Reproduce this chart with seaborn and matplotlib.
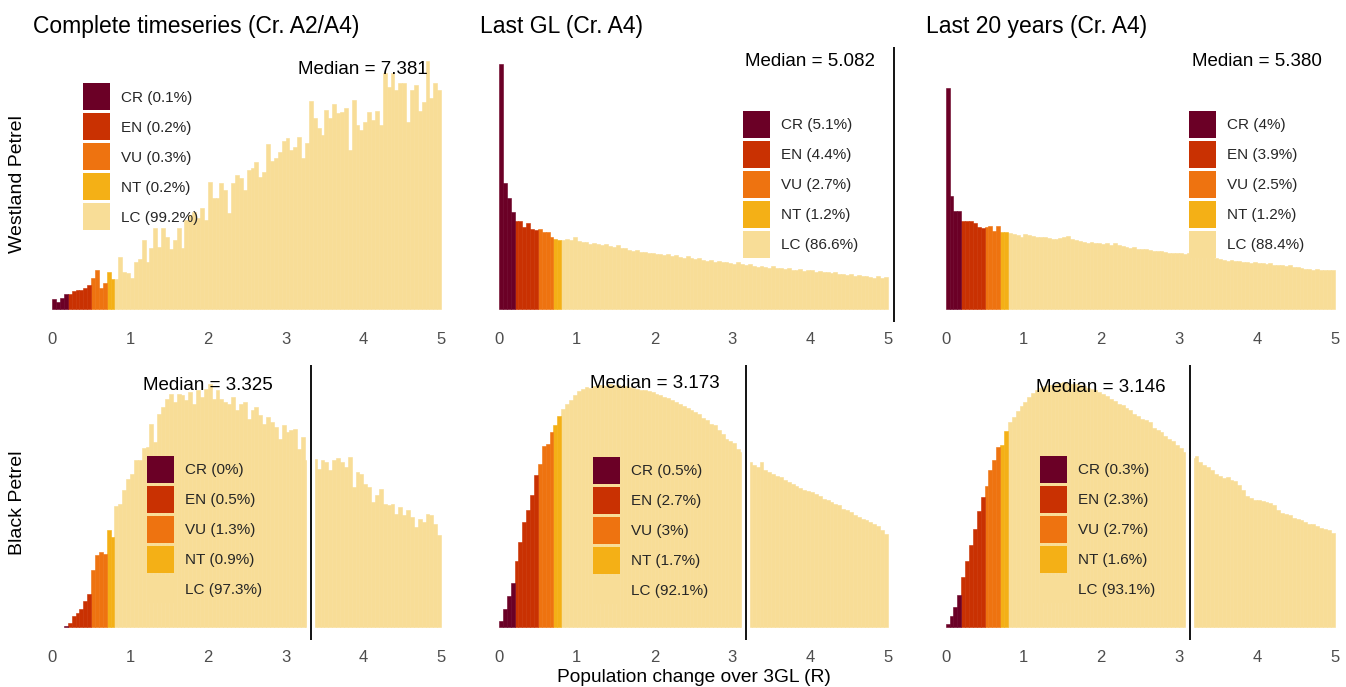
import numpy as np
import pandas as pd
import matplotlib
matplotlib.use("Agg")
import matplotlib.pyplot as plt
import matplotlib.patheffects as pe
from matplotlib.patches import Patch
import seaborn as sns

sns.set_theme(style="white")
plt.rcParams['font.family'] = ['Liberation Sans', 'DejaVu Sans']

# ---------------- data ----------------
species = ["Westland Petrel", "Black Petrel"]
periods = ["Complete timeseries (Cr. A2/A4)", "Last GL (Cr. A4)", "Last 20 years (Cr. A4)"]
categories = ["CR", "EN", "VU", "NT", "LC"]
upper_bounds = [0.2, 0.5, 0.7, 0.8]          # R upper limit of CR, EN, VU, NT
palette = ["#6b0026", "#c93102", "#ee7310", "#f4b016", "#f8dd97"]
bin_width = 0.05
x_ticks = [0, 1, 2, 3, 4, 5]

# histogram bar heights (relative frequency, 100 bins of width 0.05 from 0 to 5)
wp_complete = [
    10, 7.3, 11.3, 15.3, 14.7, 18, 18.7, 18.7, 20.7, 24,
    31.3, 39, 20.7, 26.3, 36.7, 30, 30, 52.3, 37.3, 35.7,
    31.3, 47.3, 50, 69, 47.3, 60.7, 80.7, 62.3, 81.3, 72.3,
    60, 69, 80.7, 60.7, 89, 94, 97.3, 90.7, 101.3, 89,
    127.3, 110.7, 110.7, 125.7, 119, 95.7, 125.7, 134, 130.7, 119,
    139, 140.7, 146.7, 132.3, 137.3, 164.7, 148, 150.7, 157.3, 168,
    171.3, 159, 162.3, 172.3, 150.7, 165.7, 208, 190.7, 180.7, 174,
    199, 190.7, 204.7, 195.7, 197.3, 201.3, 159, 209, 184, 179,
    187.3, 197.3, 189, 198, 184, 235.7, 222.3, 235.7, 219, 225.7,
    225.7, 187.3, 219, 224, 198, 207.3, 248, 210.7, 225.7, 219]
wp_lastgl = [
    244.7, 125.7, 111.3, 97.3, 88, 88, 82, 86.3, 80, 79.3,
    80, 77.3, 76.7, 72.3, 70, 69,
    69, 70, 68.7, 72.3, 68, 66.7, 67.3, 65.3, 66, 64.7,
    64, 64.7, 63.3, 62.3, 64, 60.7, 61.3, 59, 58, 59,
    56.7, 57.3, 55.7, 56, 54.7, 55.3, 54, 54.7, 53.3, 54,
    52.3, 51.3, 52.7, 50.7, 50, 50.7, 49.3, 48, 49, 47.3,
    48, 46.7, 47.3, 46, 45.3, 46.7, 44.7, 44, 44.7, 43.3,
    42.3, 43.3, 42, 41.3, 42.7, 40.7, 41.3, 40, 40.7, 39.3,
    38.7, 40, 38, 38.7, 39, 37.3, 38, 36.7, 37.3, 35.7,
    36.7, 34.7, 35.3, 34, 34.7, 33.3, 34, 32.7, 33.3, 32,
    31.3, 32.7, 30.7, 32]
wp_last20 = [
    220.7, 113, 98.3, 98.3, 88.3, 87.7, 87.7, 86.3, 82.3, 80.7,
    82.3, 83, 78.3, 83, 77.3, 76.7,
    76.3, 75, 73.7, 72.3, 75, 74.3, 73, 72.3, 71.7, 72.3,
    71, 70.3, 69.7, 71, 72.3, 73, 70.3, 69, 68.3, 67,
    66.3, 67, 65.7, 66, 65, 65.7, 64.3, 66.3, 63.7, 63,
    62.3, 61, 61.7, 60.3, 59.7, 60.3, 59, 58.3, 57.7, 58.3,
    57, 56.3, 55.7, 56.3, 55.7, 55, 55.7, 53.7, 54.3, 53,
    53, 52.3, 51.7, 51, 49.7, 49, 48.3, 49, 47.7, 48.3,
    47, 47.3, 46.3, 47, 45.7, 46.3, 45, 45.7, 44.3, 43.7,
    44, 43, 43.7, 42.3, 41.7, 40.7, 39.7, 40.3, 39, 39.7,
    39, 39, 39.3, 39]
bp_complete = [
    0, 0, 0, 1, 4.5, 11.5, 14.5, 18, 26, 33.3,
    56.7, 71.7, 75, 73.3, 96.7, 90, 120.7, 123.3, 136.7, 148.3,
    153.3, 167.3, 166.7, 179.3, 180, 203.3, 185, 213.3, 220, 228.3,
    233.3, 225, 233.3, 231.7, 226.7, 235, 223.3, 236.7, 230, 238.3,
    243.3, 228.3, 236.7, 228.3, 225, 223.3, 230, 216.7, 223.3, 225,
    208.3, 216.7, 220, 211.7, 203.3, 210, 205, 200, 188.3, 201.7,
    195, 196.7, 198.3, 178.3, 190, 166.7, 166.7, 168.3, 158.3, 166.7,
    165, 156.7, 166.7, 169.3, 165, 160, 170, 140, 155, 153.3,
    143.3, 140, 125, 131.7, 138.3, 123.3, 121.7, 122.7, 113.3, 120,
    111.7, 116.7, 110, 100, 108.3, 105, 113.3, 111.7, 103.3, 91.7]
bp_lastgl = [
    6.5, 18, 31, 44, 66, 85, 105, 116.7, 131.7, 151.7,
    163.3, 180.7, 182.7, 195, 201.7, 210.7, 218.3, 223.3, 227.3, 231.7,
    236, 238.3, 240, 239.3, 240.7, 241.7, 242, 241.3, 242.7, 242,
    241.7, 241, 241.3, 240, 239.3, 238.3, 237.3, 236.7, 235.7, 234.7,
    233.3, 231.7, 230, 229.3, 226.7, 225, 223.3, 221.3, 219.3, 217.3,
    215, 213.3, 209.3, 207.3, 203.3, 201.7, 196.7, 192.7, 188.3, 186,
    184, 178.3, 175, 169.3, 165, 161.7, 160, 165, 157.3, 155,
    152.7, 150.7, 150, 147.3, 145, 143.3, 140.7, 139.3, 137.3, 136,
    134.7, 132.7, 130.7, 128.3, 127.3, 125, 123.3, 121.7, 118.3, 117.3,
    115, 111.7, 110, 108.3, 107.3, 105, 102.7, 100.7, 96.7, 92.7]
bp_last20 = [
    3, 11, 20, 32, 50, 66, 82, 98, 116, 130,
    141, 157, 167, 180, 182, 196, 205, 210, 216, 220.7,
    225, 230, 234, 237.3, 239.3, 240.7, 241.7, 242, 243.3, 244,
    244.7, 244, 243.3, 242.7, 241.7, 240.7, 239.3, 238.3, 236.7, 235,
    233.3, 231.3, 228.3, 226, 223.3, 221.7, 219.3, 216.7, 213.3, 210.7,
    208.3, 206.7, 205, 199.3, 197.3, 195, 190.7, 188.3, 186, 181.7,
    179.3, 175, 171.7, 169.3, 170.7, 165, 161.7, 160, 156.7, 153.3,
    150.7, 149.3, 150, 147.3, 146, 141.7, 136.7, 130.7, 129.3, 127.3,
    126.7, 126, 125, 124, 121.7, 116.7, 114, 112.7, 111.7, 109.3,
    108.3, 107.3, 105, 103.3, 102.7, 100.7, 99.3, 98, 96.7, 94]

heights = [[wp_complete, wp_lastgl, wp_last20], [bp_complete, bp_lastgl, bp_last20]]
medians = [[7.381, 5.082, 5.380], [3.325, 3.173, 3.146]]
pct_labels = [
    [["0.1", "0.2", "0.3", "0.2", "99.2"],
     ["5.1", "4.4", "2.7", "1.2", "86.6"],
     ["4", "3.9", "2.5", "1.2", "88.4"]],
    [["0", "0.5", "1.3", "0.9", "97.3"],
     ["0.5", "2.7", "3", "1.7", "92.1"],
     ["0.3", "2.3", "2.7", "1.6", "93.1"]],
]

for row in heights:
    for h in row:
        assert len(h) == 100, len(h)

# ---------------- layout (pixels) ----------------
W, H = 1346, 687
col_left = [32.8, 479.6, 926.2]
ax_w = 420.0
row_top = [47, 365]
ax_h = 275.0
legend_anchor = [[(82.7, 83.3), (743.3, 111), (1189.3, 111)],
                 [(146.7, 456), (593.3, 456.7), (1040, 456)]]
median_text_pos = [[(4, 240), (4, 248), (4, 248)],
                   [(2, 242), (2, 244), (2, 240)]]


def category(r):
    for c, ub in zip(categories, upper_bounds):
        if r < ub:
            return c
    return "LC"


fig = plt.figure(figsize=(W / 100, H / 100), dpi=100)
fig.patch.set_facecolor("white")

for i in range(2):
    for j in range(3):
        left = col_left[j] / W
        bottom = 1 - (row_top[i] + ax_h) / H
        ax = fig.add_axes([left, bottom, ax_w / W, ax_h / H])
        h = heights[i][j]
        centers = np.arange(100) * bin_width + bin_width / 2
        df = pd.DataFrame({"R": centers, "w": h,
                           "cat": [category(c) for c in centers]})
        sns.histplot(data=df, x="R", weights="w", hue="cat",
                     hue_order=categories, palette=palette,
                     binwidth=bin_width, binrange=(0, 5),
                     multiple="layer", element="bars", alpha=1,
                     linewidth=0, legend=False, ax=ax)
        for p in ax.patches:
            if p.get_height() <= 0:
                p.set_visible(False)
            else:
                p.set_edgecolor(p.get_facecolor())
                p.set_linewidth(0.4)

        ax.set_xlim(-0.25, 5.15)
        ax.set_ylim(-13, 262)
        ax.set_xticks(x_ticks)
        ax.set_xticklabels([str(t) for t in x_ticks])
        ax.set_yticks([])
        ax.set_xlabel("")
        ax.set_ylabel("")
        ax.tick_params(axis="x", length=0, pad=7, labelsize=12, labelcolor="#4d4d4d")
        for s in ax.spines.values():
            s.set_visible(False)

        ax.axvline(medians[i][j], color="black", lw=1.3, zorder=4,
                   path_effects=[pe.Stroke(linewidth=6, foreground="white"), pe.Normal()])
        tx, ty = median_text_pos[i][j]
        ax.text(tx, ty, f"Median = {medians[i][j]:.3f}", ha="center", va="center",
                fontsize=13.5, color="black", zorder=6)

        if i == 0:
            ax.set_title(periods[j], loc="left", fontsize=16.5, pad=10, color="black")

        handles = [Patch(facecolor=c, edgecolor="none") for c in palette]
        labels = [f"{c} ({p}%)" for c, p in zip(categories, pct_labels[i][j])]
        lx, ly = legend_anchor[i][j]
        ax.legend(handles, labels, loc="upper left",
                  bbox_to_anchor=(lx / W, 1 - ly / H), bbox_transform=fig.transFigure,
                  frameon=False, borderpad=0, borderaxespad=0,
                  handlelength=1.77, handleheight=2.34, labelspacing=0.2,
                  handletextpad=0.72, fontsize=11)

for i, name in enumerate(species):
    yc = row_top[i] + ax_h / 2
    fig.text(18 / W, 1 - yc / H, name, rotation=90, ha="center", va="center",
             fontsize=14, color="black")

fig.text(693.5 / W, 1 - 677.5 / H, "Population change over 3GL (R)",
         ha="center", va="center", fontsize=13.8, color="black")

fig.savefig("out.png", dpi=100, facecolor="white")
